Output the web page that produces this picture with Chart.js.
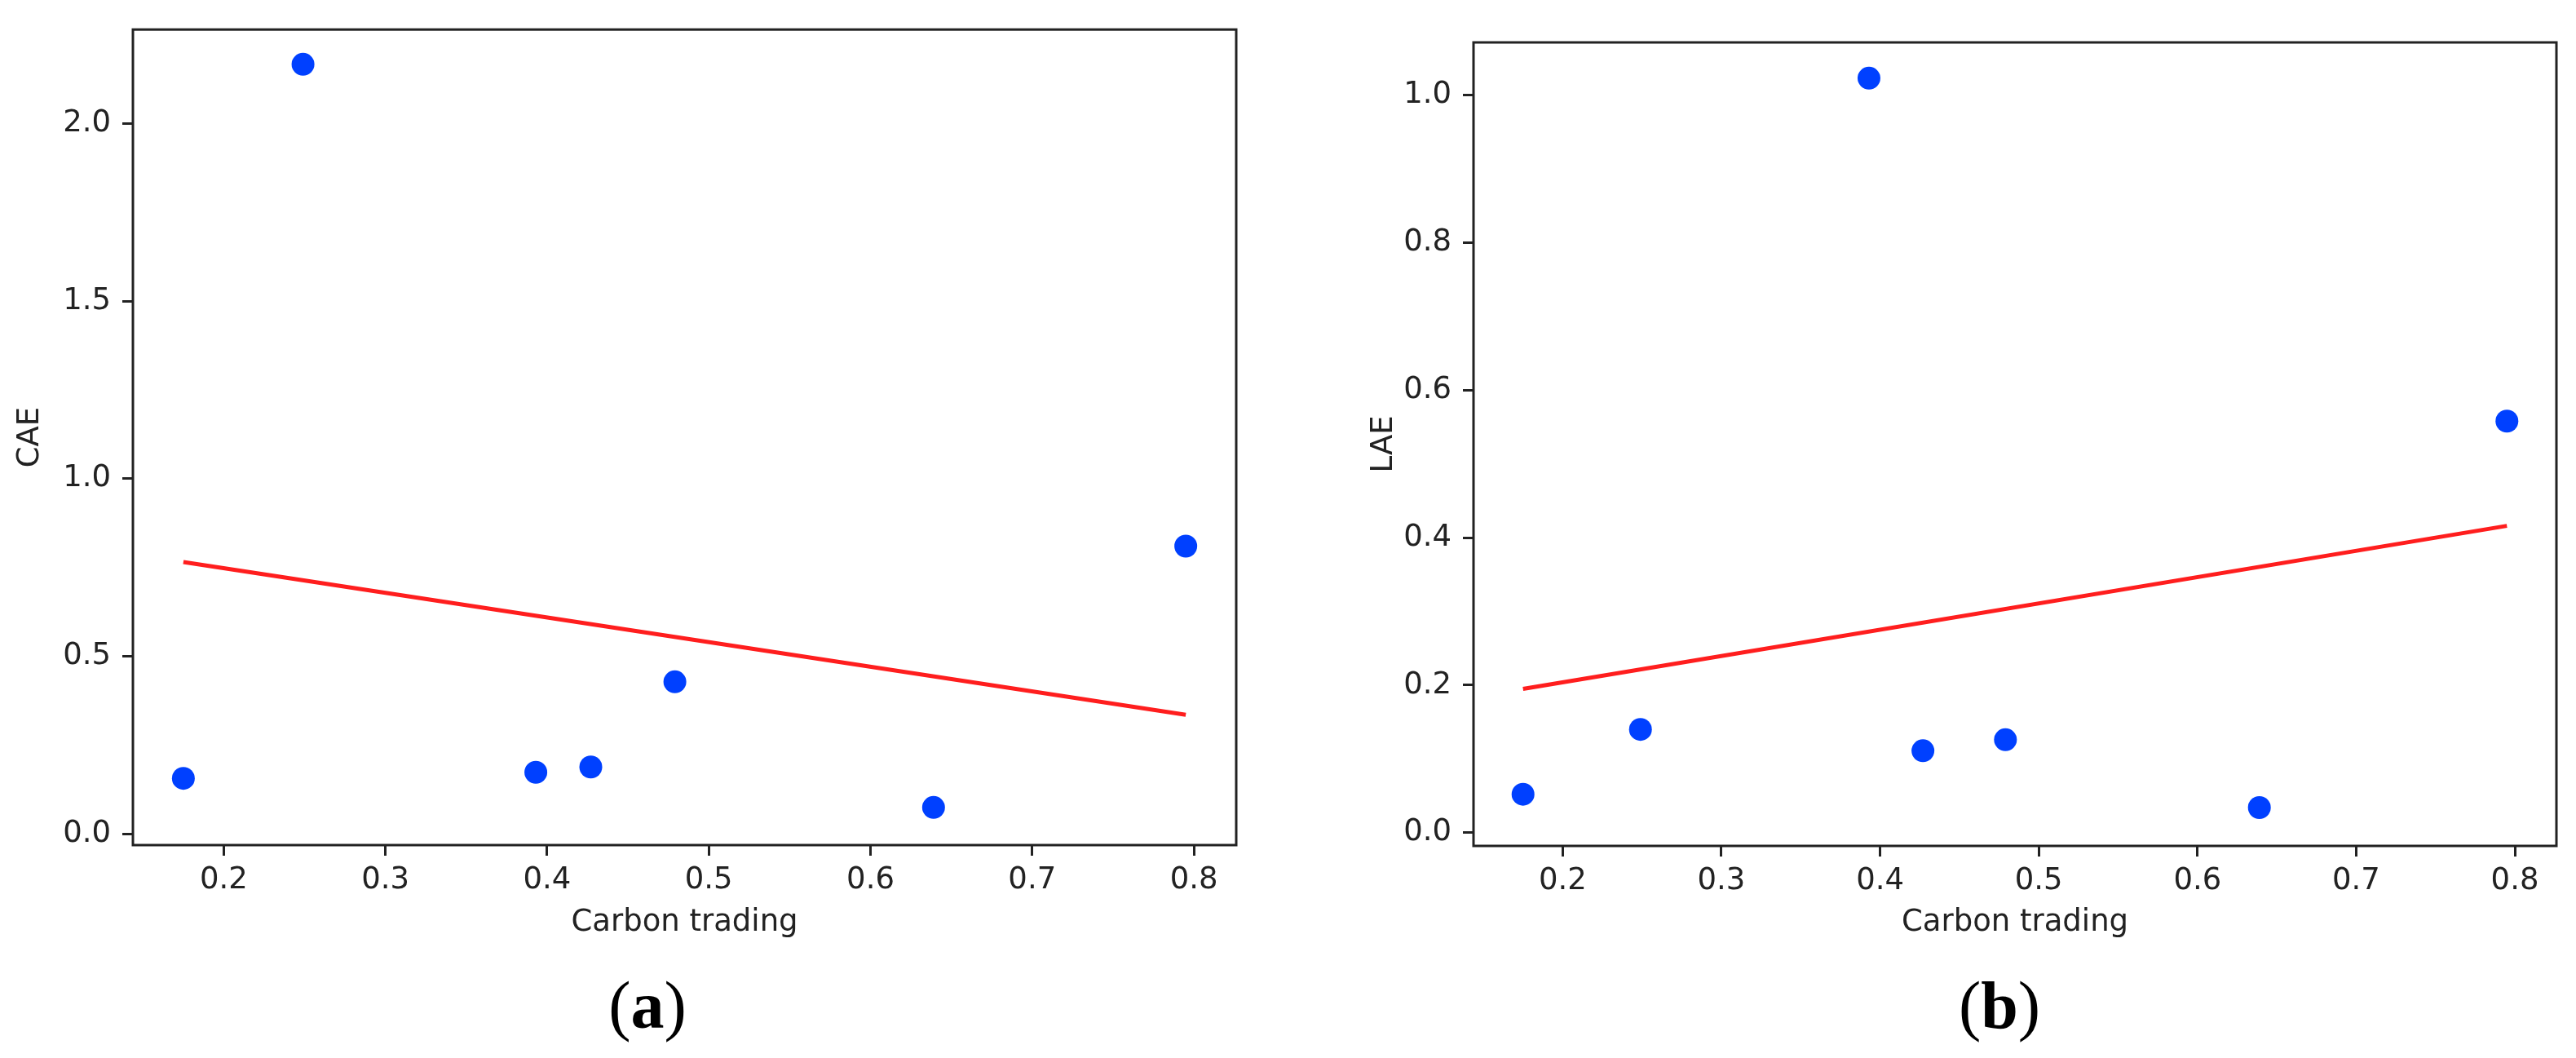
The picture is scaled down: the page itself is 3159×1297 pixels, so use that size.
<!DOCTYPE html>
<html>
<head>
<meta charset="utf-8">
<script src="https://cdn.jsdelivr.net/npm/chart.js@4.4.1/dist/chart.umd.min.js"></script>
<style>
  html, body { margin: 0; padding: 0; background: #ffffff; }
  body { width: 3159px; height: 1297px; position: relative; overflow: hidden; }
  canvas { position: absolute; }
  #cA { left: 0px; top: 0px; }
  #cB { left: 1660px; top: 0px; }
  .cap { position: absolute; top: 1192px; font-family: 'Liberation Serif', 'DejaVu Serif', serif; font-size: 82px; line-height: 82px; color: #000; transform: translateX(-50%); white-space: nowrap; }
  .cap b { font-weight: bold; }
</style>
</head>
<body>
<canvas id="cA" width="1560" height="1180"></canvas>
<canvas id="cB" width="1499" height="1180"></canvas>
<div class="cap" style="left:794px;">(<b>a</b>)</div>
<div class="cap" style="left:2452px;">(<b>b</b>)</div>
<script>
// ---- data ----
const carbonTrading = [0.175, 0.249, 0.393, 0.427, 0.479, 0.639, 0.795];
const caeValues = [0.156, 2.167, 0.173, 0.188, 0.428, 0.074, 0.810];
const laeValues = [0.052, 0.140, 1.023, 0.111, 0.126, 0.034, 0.558];
const fitX = [0.175, 0.795];
const caeFit = [0.765, 0.335];
const laeFit = [0.195, 0.416];
const xTicks = [0.2, 0.3, 0.4, 0.5, 0.6, 0.7, 0.8];
const caeTicks = [0.0, 0.5, 1.0, 1.5, 2.0];
const laeTicks = [0.0, 0.2, 0.4, 0.6, 0.8, 1.0];
const xRange = [0.1438, 0.8262];
const caeRange = [-0.032, 2.265];
const laeRange = [-0.018, 1.0715];
const xTitle = 'Carbon trading';

const INK = '#222222';
const FONT = { family: "'DejaVu Sans', sans-serif", size: 37 };

const framePlugin = {
  id: 'frame',
  afterDatasetsDraw(chart) {
    const a = chart.chartArea, ctx = chart.ctx;
    ctx.save();
    ctx.strokeStyle = INK;
    ctx.lineWidth = 3;
    ctx.strokeRect(a.left, a.top, a.right - a.left, a.bottom - a.top);
    ctx.restore();
  }
};

function pairs(xs, ys) { return xs.map((x, i) => ({ x: x, y: ys[i] })); }

function makeChart(id, cfg) {
  return new Chart(document.getElementById(id), {
    type: 'scatter',
    data: {
      datasets: [
        {
          type: 'line',
          data: pairs(fitX, cfg.fit),
          borderColor: 'rgb(255,30,30)',
          borderWidth: 5,
          pointRadius: 0,
          fill: false,
          order: 1
        },
        {
          type: 'scatter',
          data: pairs(carbonTrading, cfg.values),
          backgroundColor: '#0040ff',
          borderWidth: 0,
          pointRadius: 14,
          pointHoverRadius: 14,
          order: 2
        }
      ]
    },
    options: {
      responsive: false,
      animation: false,
      devicePixelRatio: 1,
      layout: { padding: { top: cfg.padTop, right: cfg.padRight, left: 0, bottom: 0 } },
      plugins: { legend: { display: false }, tooltip: { enabled: false } },
      scales: {
        x: {
          type: 'linear',
          position: 'bottom',
          min: xRange[0],
          max: xRange[1],
          afterBuildTicks: (s) => { s.ticks = xTicks.map(v => ({ value: v })); },
          afterFit: (s) => { s.height = cfg.xAxisH; },
          ticks: { font: FONT, color: INK, padding: 8, maxRotation: 0, autoSkip: false, callback: (v) => Number(v).toFixed(1) },
          grid: { display: true, drawOnChartArea: false, drawTicks: true, tickLength: 13, tickWidth: 3, tickColor: INK },
          border: { display: false },
          title: { display: true, text: xTitle, font: FONT, color: INK, padding: { top: 0, bottom: 26 } }
        },
        y: {
          type: 'linear',
          position: 'left',
          min: cfg.yRange[0],
          max: cfg.yRange[1],
          afterBuildTicks: (s) => { s.ticks = cfg.yTicks.map(v => ({ value: v })); },
          afterFit: (s) => { s.width = cfg.yAxisW; },
          ticks: { font: FONT, color: INK, padding: 14, autoSkip: false, callback: (v) => Number(v).toFixed(1) },
          grid: { display: true, drawOnChartArea: false, drawTicks: true, tickLength: 13, tickWidth: 3, tickColor: INK },
          border: { display: false },
          title: { display: true, text: cfg.yTitle, font: FONT, color: INK, padding: { top: 15, bottom: 0 } }
        }
      }
    },
    plugins: [framePlugin]
  });
}

makeChart('cA', { values: caeValues, fit: caeFit, yTicks: caeTicks, yRange: caeRange, yTitle: 'CAE',
  padTop: 31, padRight: 44, xAxisH: 144, yAxisW: 163 });
makeChart('cB', { values: laeValues, fit: laeFit, yTicks: laeTicks, yRange: laeRange, yTitle: 'LAE',
  padTop: 52, padRight: 24, xAxisH: 143, yAxisW: 147 });
</script>
</body>
</html>
